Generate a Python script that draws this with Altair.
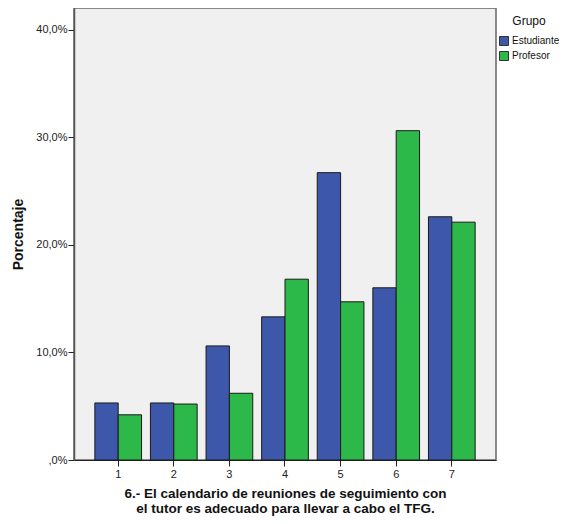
import altair as alt
import pandas as pd

categorias = ["1", "2", "3", "4", "5", "6", "7"]
estudiante = [5.3, 5.3, 10.6, 13.3, 26.7, 16.0, 22.6]
profesor = [4.2, 5.2, 6.2, 16.8, 14.7, 30.6, 22.1]
grupos = ["Estudiante", "Profesor"]
colores = ["#3D58AB", "#2DB84A"]

rows = []
for c, e, p in zip(categorias, estudiante, profesor):
    rows.append({"cat": c, "Grupo": "Estudiante", "pct": e})
    rows.append({"cat": c, "Grupo": "Profesor", "pct": p})
df = pd.DataFrame(rows)

font = "Liberation Sans"

chart = alt.Chart(df).mark_bar(stroke="#1a1a1a", strokeWidth=1).encode(
    x=alt.X("cat:N", sort=categorias,
            scale=alt.Scale(paddingInner=0.16, paddingOuter=0.375),
            axis=alt.Axis(title=["6.- El calendario de reuniones de seguimiento con",
                                 "el tutor es adecuado para llevar a cabo el TFG."],
                          labelAngle=0, labelFontSize=11, labelColor="#222",
                          labelFont=font, labelPadding=2,
                          tickSize=6, tickColor="#222", domainColor="#222",
                          titleFont=font, titleFontSize=13.5, titleFontWeight="bold",
                          titleColor="#111", titlePadding=7, titleLineHeight=15)),
    xOffset=alt.XOffset("Grupo:N", sort=grupos),
    y=alt.Y("pct:Q", scale=alt.Scale(domain=[0, 42], nice=False),
            axis=alt.Axis(title="Porcentaje", values=[0, 10, 20, 30, 40],
                          labelExpr="datum.value == 0 ? ',0%' : replace(format(datum.value, '.1f'), '.', ',') + '%'",
                          labelFontSize=11, labelColor="#222", labelFont=font,
                          labelPadding=1, tickSize=6, tickColor="#222",
                          domainColor="#555", domainWidth=1.5, grid=False,
                          titleFont=font, titleFontSize=14, titleFontWeight="bold",
                          titleColor="#111", titlePadding=10)),
    color=alt.Color("Grupo:N", sort=grupos,
                    scale=alt.Scale(domain=grupos, range=colores),
                    legend=alt.Legend(title="Grupo", orient="none", legendX=425, legendY=8,
                                      titleAnchor="middle", titleFont=font,
                                      titleFontSize=12, titleFontWeight="normal",
                                      titleColor="#111", titlePadding=8,
                                      labelFont=font, labelFontSize=10, labelColor="#111",
                                      labelOffset=3,
                                      symbolType="square", symbolSize=81,
                                      symbolStrokeColor="#333", symbolStrokeWidth=1,
                                      symbolOpacity=1, rowPadding=1)),
).properties(
    width=422, height=452,
    autosize=alt.AutoSizeParams(type="none"),
    padding={"left": 66, "top": 0, "right": 63, "bottom": 56},
).configure_view(
    fill="#F0F0F0", stroke="#666", strokeWidth=1.5
)

chart.save("out.html", embed_options={"renderer": "svg", "actions": False})
